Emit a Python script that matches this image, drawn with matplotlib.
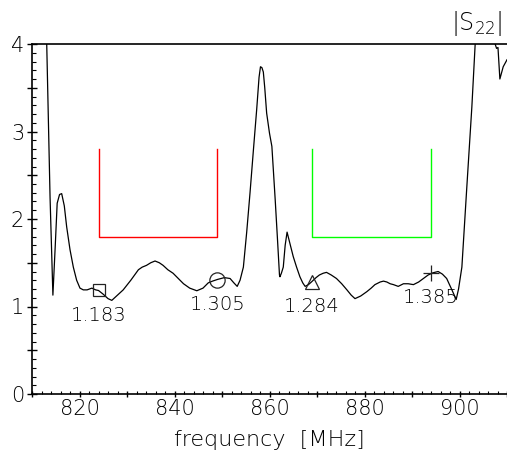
import matplotlib
matplotlib.use('Agg')
import matplotlib.pyplot as plt
from matplotlib.ticker import MultipleLocator, FuncFormatter

# |S22| trace (MHz, magnitude)
freq = [812.0, 813.1, 813.8, 814.4, 814.9, 815.3, 815.8, 816.25, 816.8, 817.3,
        818.0, 818.7, 819.4, 820.1, 820.8, 821.6, 822.6, 823.4, 824.0, 825.0,
        826.0, 826.8, 827.8, 829.2, 830.8, 832.4, 833.2, 834.1, 835.0, 835.9,
        836.8, 837.6, 838.6, 839.7, 840.8, 841.9, 843.2, 844.7, 846.0, 847.1,
        848.0, 849.1, 850.5, 851.7, 852.5, 853.2, 853.8, 854.5, 855.2, 855.9,
        856.6, 857.3, 857.8, 858.1, 858.4, 858.7, 859.0, 859.4, 860.0, 860.5,
        861.2, 861.7, 862.1, 862.2, 862.5, 862.9, 863.3, 863.7, 864.3, 865.0,
        865.7, 866.4, 867.0, 867.5, 868.2, 868.9, 869.8, 870.5, 871.3, 872.0,
        873.0, 874.1, 875.2, 876.3, 877.2, 878.0, 879.2, 880.5, 881.4, 882.2,
        883.3, 884.0, 884.7, 885.4, 886.1, 887.1, 888.2, 889.2, 890.3, 891.4,
        892.4, 893.4, 894.4, 895.5, 896.4, 897.3, 898.4, 899.3, 899.8, 900.5,
        901.5, 902.6, 903.3, 904.0, 907.0, 907.5, 907.8, 908.1, 908.5, 909.2,
        910.0]
s22 = [5.0, 4.0, 2.25, 1.13, 1.7, 2.18, 2.28, 2.29, 2.15, 1.91,
       1.65, 1.45, 1.3, 1.21, 1.19, 1.19, 1.21, 1.19, 1.183, 1.14,
       1.09, 1.07, 1.12, 1.19, 1.30, 1.42, 1.45, 1.47, 1.50, 1.52,
       1.50, 1.47, 1.42, 1.38, 1.32, 1.26, 1.21, 1.18, 1.21, 1.27,
       1.29, 1.31, 1.33, 1.32, 1.27, 1.23, 1.30, 1.45, 1.85, 2.30,
       2.78, 3.25, 3.62, 3.74, 3.73, 3.68, 3.50, 3.21, 2.98, 2.83,
       2.22, 1.75, 1.36, 1.34, 1.38, 1.45, 1.70, 1.85, 1.72, 1.57,
       1.45, 1.34, 1.27, 1.23, 1.25, 1.284, 1.33, 1.36, 1.38, 1.39,
       1.36, 1.32, 1.26, 1.19, 1.13, 1.09, 1.12, 1.17, 1.21, 1.25,
       1.28, 1.29, 1.28, 1.26, 1.25, 1.23, 1.26, 1.26, 1.25, 1.28,
       1.32, 1.36, 1.385, 1.40, 1.37, 1.32, 1.19, 1.08, 1.20, 1.45,
       2.33, 3.28, 4.0, 4.8, 4.8, 4.0, 3.95, 3.96, 3.60, 3.74,
       3.82]

# markers
mark_f = [824, 849, 869, 894]
mark_v = [1.183, 1.305, 1.284, 1.385]
mark_sym = ['s', 'o', '^', '+']
mark_size = [8, 11, 10, 12]

# spec masks (f_lo, f_hi, bottom, top)
masks = [(824, 849, 1.8, 2.8, '#ff0000'), (869, 894, 1.8, 2.8, '#00ff00')]

plt.rcParams['font.family'] = 'DejaVu Sans'
plt.rcParams['font.weight'] = 'light'
plt.rcParams['axes.labelweight'] = 'light'
plt.rcParams['mathtext.default'] = 'regular'

fig = plt.figure(figsize=(5.07, 4.63), dpi=100)
ax = fig.add_axes([32 / 507, 1 - 394 / 463, 475 / 507, 350 / 463])

ax.plot(freq, s22, color='black', lw=0.9)

for lo, hi, bot, top, col in masks:
    ax.plot([lo, lo, hi, hi], [top, bot, bot, top], color=col, lw=1.0)

for f, v, m, ms in zip(mark_f, mark_v, mark_sym, mark_size):
    ax.plot(f, v, marker=m, ms=ms, mfc='none', mec='#222222', mew=0.9)
    ax.annotate('%.3f' % v, (f, v), xytext=(0, -11), textcoords='offset points',
                ha='center', va='top', fontsize=14, color='black')

ax.set_xlim(810, 910)
ax.set_ylim(0, 4)

ax.xaxis.set_major_locator(MultipleLocator(10))
ax.xaxis.set_minor_locator(MultipleLocator(2))
ax.xaxis.set_major_formatter(FuncFormatter(lambda x, p: '%d' % x if x % 20 == 0 else ''))
ax.yaxis.set_major_locator(MultipleLocator(0.5))
ax.yaxis.set_minor_locator(MultipleLocator(0.1))
ax.yaxis.set_major_formatter(FuncFormatter(lambda y, p: '%d' % y if y % 1 == 0 else ''))

ax.tick_params(axis='x', which='major', direction='inout', length=5, width=1, pad=1, labelsize=15)
ax.tick_params(axis='x', which='minor', direction='in', length=2.5, width=0.8)
ax.tick_params(axis='y', which='major', direction='inout', length=7, width=1, pad=2, labelsize=15)
ax.tick_params(axis='y', which='minor', direction='in', length=3, width=0.8)

for side in ['left', 'bottom', 'top']:
    ax.spines[side].set_linewidth(1.2)
ax.spines['right'].set_visible(False)

ax.set_xlabel('frequency  [MHz]', fontsize=16, labelpad=8)
fig.text(503 / 507, 1 - 23 / 463, r'$|S_{22}|$', ha='right', va='center', fontsize=17)

fig.savefig('out.png', dpi=100)
